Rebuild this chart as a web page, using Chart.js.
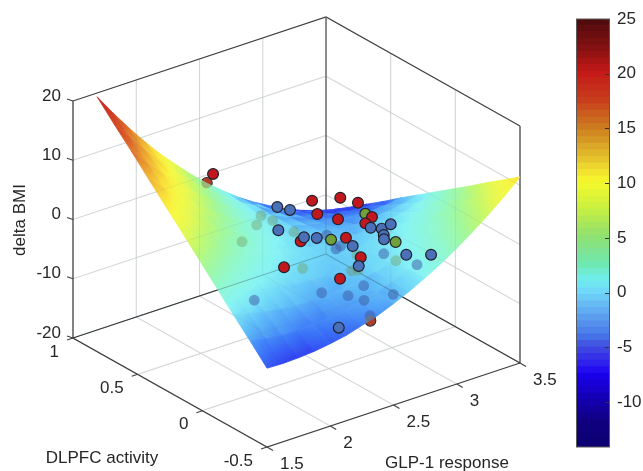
<!DOCTYPE html>
<html>
<head>
<meta charset="utf-8">
<script src="https://cdn.jsdelivr.net/npm/chart.js@4"></script>
<style>
html, body { margin: 0; background: #fff; }
canvas { position: absolute; top: 0; }
#plot { left: 0; }
#bar { left: 576px; }
</style>
</head>
<body>
<canvas id="plot" width="643" height="471"></canvas>
<canvas id="bar" width="67" height="471"></canvas>
<script>
// surface, rows go from low to high DLPFC, columns from low to high GLP-1
const glpGrid = [1.5, 1.625, 1.75, 1.875, 2, 2.125, 2.25, 2.375, 2.5, 2.625, 2.75, 2.875, 3, 3.125, 3.25, 3.375, 3.5];
const dlpfcGrid = [-0.5, -0.369, -0.237, -0.106, 0.026, 0.157, 0.288, 0.42, 0.551, 0.683, 0.814];
const deltaGrid = [
    [-6.7, -6.8, -6.7, -6.5, -6.1, -5.6, -4.8, -4.0, -2.9, -1.7, -0.3, 1.2, 2.9, 4.8, 6.8, 9.0, 11.4],
    [-3.7, -4.2, -4.5, -4.6, -4.5, -4.3, -3.9, -3.3, -2.6, -1.7, -0.6, 0.6, 2.0, 3.6, 5.3, 7.2, 9.3],
    [-0.8, -1.6, -2.2, -2.6, -2.9, -3.0, -3.0, -2.7, -2.3, -1.7, -1.0, -0.1, 1.0, 2.3, 3.8, 5.4, 7.2],
    [2.2, 1.1, 0.1, -0.7, -1.3, -1.8, -2.0, -2.1, -2.0, -1.8, -1.3, -0.7, 0.1, 1.1, 2.2, 3.5, 5.0],
    [5.2, 3.7, 2.4, 1.2, 0.3, -0.5, -1.1, -1.5, -1.8, -1.8, -1.7, -1.4, -0.9, -0.2, 0.7, 1.7, 2.9],
    [8.2, 6.3, 4.6, 3.2, 1.9, 0.8, -0.2, -0.9, -1.5, -1.8, -2.0, -2.0, -1.8, -1.4, -0.9, -0.1, 0.8],
    [11.1, 8.9, 6.9, 5.1, 3.5, 2.0, 0.8, -0.3, -1.2, -1.9, -2.4, -2.7, -2.8, -2.7, -2.4, -2.0, -1.3],
    [14.1, 11.5, 9.2, 7.0, 5.1, 3.3, 1.7, 0.3, -0.9, -1.9, -2.7, -3.3, -3.7, -3.9, -4.0, -3.8, -3.4],
    [17.1, 14.2, 11.5, 9.0, 6.6, 4.5, 2.6, 0.9, -0.6, -1.9, -3.0, -4.0, -4.7, -5.2, -5.5, -5.6, -5.6],
    [20.0, 16.8, 13.7, 10.9, 8.2, 5.8, 3.6, 1.5, -0.3, -1.9, -3.4, -4.6, -5.6, -6.4, -7.1, -7.5, -7.7],
    [23.0, 19.4, 16.0, 12.8, 9.8, 7.1, 4.5, 2.1, 0.0, -2.0, -3.7, -5.2, -6.6, -7.7, -8.6, -9.3, -9.8]
];

// subjects above the surface
const redGlp = [2.623, 2.846, 2.986, 2.664, 2.828, 2.79, 3.044, 2.533, 2.891, 3.008, 2.708, 2.844, 2.147];
const redDlpfc = [0.25, 0.25, 0.25, 0.25, 0.25, -0.05, 0.25, 0.25, 0.25, 0.25, 0.55, 0.25, 0.55];
const redDelta = [4.41, 3.33, 1.49, 1.87, -0.19, 4.15, -2.4, -1.81, -3.75, -7.88, -11.11, -10.33, 8.62];
const blueGlp = [2.655, 2.755, 2.663, 2.559, 2.66, 2.944, 2.78, 2.867, 2.938, 2.883, 2.885, 3.061, 3.257, 2.992, 2.834];
const blueDlpfc = [0.55, 0.55, 0.55, 0.25, 0.25, 0.25, -0.05, -0.05, -0.05, -0.05, -0.05, -0.05, -0.05, 0.25, 0.25];
const blueDelta = [-0.56, -1.77, -4.54, -1.32, -2.14, -5.52, 2.41, 1.64, 1.87, 0.46, -0.29, -4.14, -5.52, -9.23, -18.51];
const greenGlp = [3.044, 2.773, 2.977];
const greenDlpfc = [0.25, 0.25, -0.05];
const greenDelta = [-0.78, -3.24, -1.4];

// subjects below the surface
const lowRedGlp = [2.097, 2.777];
const lowRedDlpfc = [0.55, -0.05];
const lowRedDelta = [7.46, -13.25];
const lowBlueGlp = [2.473, 2.699, 2.907, 3.031, 3.034, 2.958, 2.774, 2.883, 3.146, 2.812, 2.849, 2.739];
const lowBlueDlpfc = [0.55, 0.25, 0.25, 0.25, 0.25, -0.05, -0.05, -0.05, -0.05, 0.25, 0.25, 0.25];
const lowBlueDelta = [-15, -11.66, -13.64, -12.83, -15.31, -10.09, -12.39, -2.7, -6.41, -5.05, -4.84, -2.21];
const lowGreenGlp = [2.376, 2.492, 2.526, 2.619, 2.787, 2.549, 2.98, 2.936, 2.986, 2.976];
const lowGreenDlpfc = [0.55, 0.55, 0.55, 0.55, 0.55, 0.25, -0.05, 0.25, 0.25, 0.25];
const lowGreenDelta = [-4.42, -2.43, -1.11, -2.6, -5.7, -6.48, -4.57, -9.64, -9.87, -7.26];

// axes
const glpTicks = [1.5, 2, 2.5, 3, 3.5];
const glpTickLabels = ['1.5', '2', '2.5', '3', '3.5'];
const dlpfcTicks = [-0.5, 0, 0.5, 1];
const dlpfcTickLabels = ['-0.5', '0', '0.5', '1'];
const deltaTicks = [-20, -10, 0, 10, 20];
const deltaTickLabels = ['-20', '-10', '0', '10', '20'];

// colormap of the colorbar
const barMapValues = [-14.1, -12, -10, -7.5, -7, -5, -4, -2, 0, 1, 2.5, 5, 7.5, 10, 11, 12.5, 15, 17.5, 20, 22, 25];
const barMapColors = ['#0c0070', '#100080', '#1400b0', '#1a00f0', '#2a14f0', '#4050e0', '#4878e8', '#60a8f0', '#70d8f8', '#70eeee', '#70e8b0', '#90e070', '#c8f040', '#f6f82a', '#f0e030', '#e0b828', '#cc7a20', '#c83c1c', '#c41818', '#8a1212', '#4a0a0c'];
const barEdges = [-14.1, -13.5, -12.9, -12.3, -11.7, -11.1, -10.5, -9.9, -9.3, -8.7, -8.1, -7.5, -6.9, -6.3, -5.7, -5.1, -4.5, -3.9, -3.3, -2.7, -2.1, -1.5, -0.9, -0.3, 0.3, 0.9, 1.5, 2.1, 2.7, 3.3, 3.9, 4.5, 5.1, 5.7, 6.3, 6.9, 7.5, 8.1, 8.7, 9.3, 9.9, 10.5, 11.1, 11.7, 12.3, 12.9, 13.5, 14.1, 14.7, 15.3, 15.9, 16.5, 17.1, 17.7, 18.3, 18.9, 19.5, 20.1, 20.7, 21.3, 21.9, 22.5, 23.1, 23.7, 24.3, 25];

// the surface is see-through in the reference, so its colours are paler
const surfMapValues = [-7, -5, -3, -1.5, 0, 2, 4, 6, 8, 10, 12, 15, 18, 22];
const surfMapColors = ['#3040f0', '#3c78f8', '#58b0f8', '#70d8f8', '#88f4f4', '#90f8d0', '#a0f8a0', '#c0f870', '#e8f850', '#f8f840', '#f8d838', '#e89830', '#d85828', '#c82820'];

const FONT = '"Liberation Sans", Arial, sans-serif';
const TEXT = '#262626';

// fixed orthographic view of the box
function project(g, d, z) {
    return {
        x: 267 + 126.5 * (g - 1.5) - 129.33 * (d + 0.5),
        y: 447 - 42 * (g - 1.5) - 72.67 * (d + 0.5) - 5.925 * (z + 20)
    };
}

function hexRgb(h) {
    return [parseInt(h.slice(1, 3), 16), parseInt(h.slice(3, 5), 16), parseInt(h.slice(5, 7), 16)];
}

function lookup(values, colors, v) {
    let i = 0;
    while (i < values.length - 2 && v > values[i + 1]) i++;
    const t = Math.min(1, Math.max(0, (v - values[i]) / (values[i + 1] - values[i])));
    const a = hexRgb(colors[i]), b = hexRgb(colors[i + 1]);
    return 'rgb(' + a.map((c, k) => Math.round(c + (b[k] - c) * t)).join(',') + ')';
}

const plotCtx = document.getElementById('plot').getContext('2d');

// shading of one surface cell, from its lowest corner to its highest
function cellPaint(corners) {
    let lo = corners[0], hi = corners[0];
    corners.forEach(c => {
        if (c.z < lo.z) lo = c;
        if (c.z > hi.z) hi = c;
    });
    const grad = plotCtx.createLinearGradient(lo.p.x, lo.p.y, hi.p.x, hi.p.y);
    [0, 0.25, 0.5, 0.75, 1].forEach(s => grad.addColorStop(s, lookup(surfMapValues, surfMapColors, lo.z + (hi.z - lo.z) * s)));
    return grad;
}

function line(points, color, width, order) {
    return { data: points, showLine: true, pointRadius: 0, borderColor: color, borderWidth: width, fill: false, order: order };
}

function dots(glp, dlpfc, delta, fillColor, edgeColor, order) {
    return {
        data: glp.map((g, i) => project(g, dlpfc[i], delta[i])),
        showLine: false,
        pointRadius: 5.4,
        pointBackgroundColor: fillColor,
        pointBorderColor: edgeColor,
        pointBorderWidth: 1.2,
        order: order
    };
}

const datasets = [];

// surface cells, near ones get a lower order so they paint last
for (let j = 0; j < dlpfcGrid.length - 1; j++) {
    for (let i = 0; i < glpGrid.length - 1; i++) {
        const corners = [[i, j], [i + 1, j], [i + 1, j + 1], [i, j + 1]].map(([a, b]) => ({
            z: deltaGrid[b][a],
            p: project(glpGrid[a], dlpfcGrid[b], deltaGrid[b][a])
        }));
        const paint = cellPaint(corners);
        const pts = corners.map(c => c.p);
        pts.push(corners[0].p);
        datasets.push({
            data: pts, showLine: true, pointRadius: 0, fill: 'shape',
            backgroundColor: paint, borderColor: paint, borderWidth: 0.8,
            order: 100 + i + j
        });
    }
}

// grid and box lines
const GRID = '#e2e2e2';
const BOX = '#404040';
const WALL = '#666666';
const LOW = 100 + 60;   // under the surface
const gridLines = [];
glpTicks.slice(1, -1).forEach(g => {
    gridLines.push([project(g, -0.5, -20), project(g, 1, -20)]);
    gridLines.push([project(g, 1, -20), project(g, 1, 20)]);
});
dlpfcTicks.slice(1, -1).forEach(d => {
    gridLines.push([project(1.5, d, -20), project(3.5, d, -20)]);
    gridLines.push([project(3.5, d, -20), project(3.5, d, 20)]);
});
deltaTicks.slice(1, -1).forEach(z => {
    gridLines.push([project(1.5, 1, z), project(3.5, 1, z), project(3.5, -0.5, z)]);
});
gridLines.forEach(p => {
    datasets.push(line(p, GRID, 1.2, LOW + 2));
    datasets.push(line(p, 'rgba(90,120,130,0.1)', 1, 20));  // seen through the surface
});

const floorBack = [project(1.5, 1, -20), project(3.5, 1, -20), project(3.5, -0.5, -20)];
datasets.push(line(floorBack, BOX, 1.2, LOW + 1));
datasets.push(line(floorBack, 'rgba(30,50,60,0.3)', 1.1, 20));
datasets.push(line([project(3.5, 1, -20), project(3.5, 1, 20)], WALL, 1.5, LOW + 1));
datasets.push(line([project(3.5, 1, -20), project(3.5, 1, -9)], 'rgba(60,80,90,0.2)', 1.2, 20));
datasets.push(line([project(3.5, -0.5, -20), project(3.5, -0.5, 20)], WALL, 1.6, LOW + 1));
datasets.push(line([project(1.5, 1, 20), project(3.5, 1, 20), project(3.5, -0.5, 20)], BOX, 1.2, LOW + 1));
datasets.push(line([project(1.5, 1, 20), project(1.5, 1, -20), project(1.5, -0.5, -20), project(3.5, -0.5, -20)], BOX, 1.3, LOW + 1));

// tick marks
deltaTicks.forEach(z => {
    const p = project(1.5, 1, z);
    datasets.push(line([p, { x: p.x - 6, y: p.y - 2 }], BOX, 1.1, LOW + 1));
});
dlpfcTicks.forEach(d => {
    const p = project(1.5, d, -20);
    datasets.push(line([p, { x: p.x - 6, y: p.y + 2 }], BOX, 1.1, LOW + 1));
});
glpTicks.forEach(g => {
    const p = project(g, -0.5, -20);
    datasets.push(line([p, { x: p.x + 6, y: p.y + 3.5 }], BOX, 1.1, LOW + 1));
});

// points under the surface: solid where they stick out, faded through it
const EDGE = '#20202c';
datasets.push(dots(lowRedGlp, lowRedDlpfc, lowRedDelta, '#c0181c', EDGE, LOW));
datasets.push(dots(lowBlueGlp, lowBlueDlpfc, lowBlueDelta, '#4a70b8', EDGE, LOW));
datasets.push(dots(lowGreenGlp, lowGreenDlpfc, lowGreenDelta, '#6fa03a', EDGE, LOW));
datasets.push(dots(lowRedGlp, lowRedDlpfc, lowRedDelta, 'rgba(150,110,60,0.45)', 'rgba(0,0,0,0)', 10));
datasets.push(dots(lowBlueGlp, lowBlueDlpfc, lowBlueDelta, 'rgba(60,90,165,0.5)', 'rgba(0,0,0,0)', 10));
datasets.push(dots(lowGreenGlp, lowGreenDlpfc, lowGreenDelta, 'rgba(110,150,90,0.38)', 'rgba(0,0,0,0)', 10));

// points over the surface
datasets.push(dots(redGlp, redDlpfc, redDelta, '#c0181c', EDGE, 1));
datasets.push(dots(greenGlp, greenDlpfc, greenDelta, '#6fa03a', EDGE, 2));
datasets.push(dots(blueGlp, blueDlpfc, blueDelta, '#4a70b8', EDGE, 0));

const axisText = {
    id: 'axisText',
    afterDraw(chart) {
        const ctx = chart.ctx;
        const sx = chart.scales.x, sy = chart.scales.y;
        ctx.save();
        ctx.fillStyle = TEXT;
        ctx.font = '17px ' + FONT;
        ctx.textBaseline = 'middle';

        ctx.textAlign = 'right';
        deltaTicks.forEach((z, i) => {
            const p = project(1.5, 1, z);
            ctx.fillText(deltaTickLabels[i], sx.getPixelForValue(p.x) - 12, sy.getPixelForValue(p.y) - 5);
        });
        dlpfcTicks.forEach((d, i) => {
            const p = project(1.5, d, -20);
            ctx.fillText(dlpfcTickLabels[i], sx.getPixelForValue(p.x) - 14, sy.getPixelForValue(p.y) + 14);
        });
        ctx.textAlign = 'left';
        glpTicks.forEach((g, i) => {
            const p = project(g, -0.5, -20);
            ctx.fillText(glpTickLabels[i], sx.getPixelForValue(p.x) + 13, sy.getPixelForValue(p.y) + 17);
        });

        ctx.textAlign = 'center';
        ctx.fillText('DLPFC activity', 102, 458);
        ctx.fillText('GLP-1 response', 447, 463);
        ctx.translate(20, 220);
        ctx.rotate(-Math.PI / 2);
        ctx.fillText('delta BMI', 0, 0);
        ctx.restore();
    }
};

new Chart(plotCtx, {
    type: 'scatter',
    data: { datasets: datasets },
    options: {
        responsive: false,
        animation: false,
        events: [],
        layout: { autoPadding: false, padding: 0 },
        plugins: { legend: { display: false }, tooltip: { enabled: false } },
        scales: {
            x: { type: 'linear', display: false, min: 0, max: 643 },
            y: { type: 'linear', display: false, min: 0, max: 471, reverse: true }
        }
    },
    plugins: [axisText]
});

// colorbar
const barFrame = {
    id: 'barFrame',
    afterDatasetsDraw(chart) {
        const ctx = chart.ctx, area = chart.chartArea, sy = chart.scales.y;
        ctx.save();
        ctx.strokeStyle = '#333';
        ctx.lineWidth = 1;
        sy.ticks.forEach(t => {
            const y = Math.round(sy.getPixelForValue(t.value)) + 0.5;
            ctx.beginPath();
            ctx.moveTo(area.right - 5, y);
            ctx.lineTo(area.right, y);
            ctx.stroke();
        });
        ctx.strokeStyle = '#5a5a5a';
        ctx.strokeRect(area.left + 0.5, area.top, area.right - area.left - 1, area.bottom - area.top);
        ctx.restore();
    }
};

new Chart(document.getElementById('bar'), {
    type: 'bar',
    data: {
        labels: [''],
        // each band runs slightly into the next one so no seam shows, lower bands paint last
        datasets: barEdges.slice(0, -1).map((lo, i) => ({
            data: [[lo, Math.min(25, barEdges[i + 1] + 0.15)]],
            backgroundColor: lookup(barMapValues, barMapColors, (lo + barEdges[i + 1]) / 2),
            barPercentage: 1,
            categoryPercentage: 1,
            grouped: false
        }))
    },
    options: {
        responsive: false,
        animation: false,
        events: [],
        layout: { autoPadding: false, padding: { top: 19, bottom: 24 } },
        plugins: { legend: { display: false }, tooltip: { enabled: false } },
        scales: {
            x: { display: false },
            y: {
                position: 'right',
                min: -14.1,
                max: 25,
                afterFit: s => { s.width = 33; },
                grid: { display: false, drawTicks: false },
                border: { display: false },
                ticks: { stepSize: 5, includeBounds: false, padding: 7, color: TEXT, font: { family: FONT, size: 17 } }
            }
        }
    },
    plugins: [barFrame]
});
</script>
</body>
</html>
